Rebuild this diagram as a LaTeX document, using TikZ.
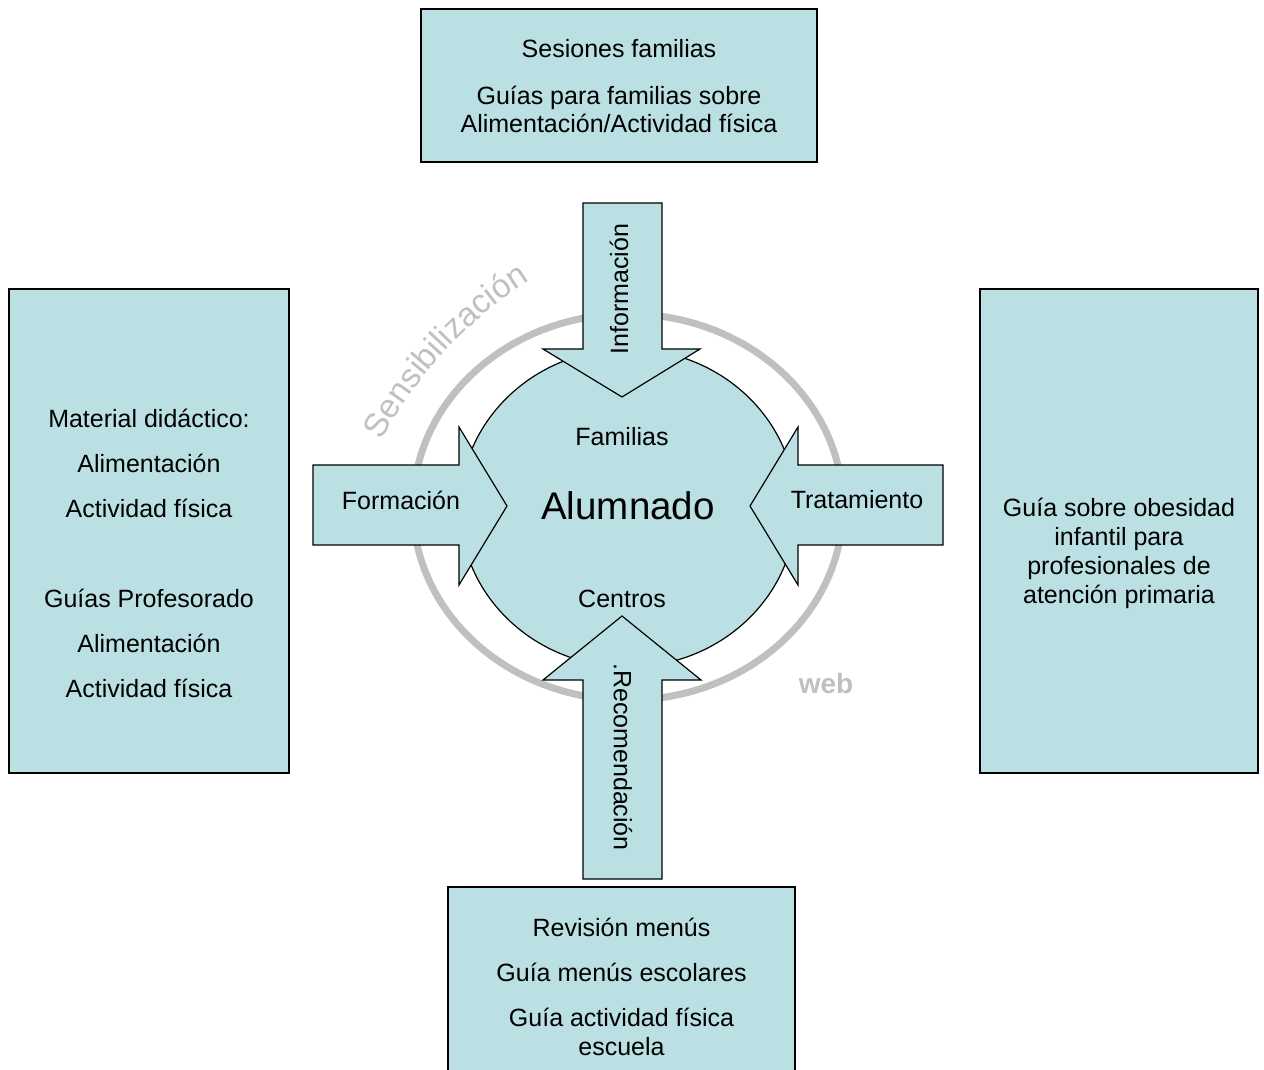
\documentclass[tikz,border=0pt]{standalone}
\usepackage{fontspec}
\setmainfont{Liberation Sans}
\usetikzlibrary{decorations.text}
\definecolor{boxfill}{RGB}{187,224,227}
\definecolor{ringgray}{RGB}{192,192,192}
\begin{document}
\begin{tikzpicture}[x=0.75pt,y=-0.75pt,
  box/.style={draw=black, fill=boxfill, line width=0.9pt, rectangle, inner sep=0pt},
  blockarrow/.style={draw=black, fill=boxfill, line width=0.9pt, line join=miter},
  txt/.style={inner sep=0pt, align=center, font=\fontsize{18.75}{21.75}\selectfont},
  bigtxt/.style={inner sep=0pt, font=\fontsize{28.9}{30}\selectfont},
  webtxt/.style={inner sep=0pt, text=ringgray, font=\fontsize{21}{22}\bfseries\selectfont}]
\useasboundingbox (0,0) rectangle (1264,1070);

% boxes
\node[box, minimum width=297pt, minimum height=114.75pt] (topbox) at (619,85.5) {};
\node[box, minimum width=210pt, minimum height=363pt] (leftbox) at (149,531) {};
\node[box, minimum width=208.5pt, minimum height=363pt] (rightbox) at (1119,531) {};
\node[box, minimum width=260.25pt, minimum height=141pt] (bottombox) at (621.5,981) {};

% box texts
\node[txt, font=\fontsize{18.75}{21}\selectfont] (toptxt) at (619,86)
  {Sesiones familias\\[14.25pt]Guías para familias sobre\\Alimentación/Actividad física};
\node[txt, font=\fontsize{18.75}{33.75}\selectfont] (lefttxt) at (149,553)
  {Material didáctico:\\Alimentación\\Actividad física\\[33.75pt]Guías Profesorado\\Alimentación\\Actividad física};
\node[txt] (righttxt) at (1119,553.5)
  {Guía sobre obesidad\\infantil para\\profesionales de\\atención primaria};
\node[txt] (bottomtxt) at (621.5,986.5)
  {Revisión menús\\[12pt]Guía menús escolares\\[12pt]Guía actividad física\\escuela};

% ring and centre
\draw[ringgray, line width=5.25pt] (628,507) ellipse [x radius=215, y radius=193];
\path[decorate, decoration={text along path,
   text={|\fontsize{25}{25}\selectfont\color{ringgray}|Sensibilización}}]
   (757,640) ++(208:425) arc[start angle=208, end angle=245, radius=425];
\draw[blockarrow] (628,508) ellipse [x radius=168, y radius=159];

% block arrows
\draw[blockarrow] (583,203) -- (662,203) -- (662,349) -- (700,349) -- (622,397) -- (543,349) -- (583,349) -- cycle;
\draw[blockarrow] (583,879) -- (662,879) -- (662,680) -- (701,680) -- (622,616) -- (543,680) -- (583,680) -- cycle;
\draw[blockarrow] (313,465) -- (459,465) -- (459,427) -- (507,506) -- (459,585) -- (459,545) -- (313,545) -- cycle;
\draw[blockarrow] (943,465) -- (798,465) -- (798,427) -- (750,506) -- (798,585) -- (798,545) -- (943,545) -- cycle;

% arrow labels
\node[txt, rotate=90] (info) at (619,289) {Información};
\node[txt, rotate=-90] (recom) at (623,757) {.Recomendación};
\node[txt] (forma) at (401,500) {Formación};
\node[txt] (trata) at (857,500) {Tratamiento};

% centre texts
\node[txt] (familias) at (622,437) {Familias};
\node[bigtxt] (alumnado) at (628,506) {Alumnado};
\node[txt] (centros) at (622,599) {Centros};
\node[webtxt] (web) at (826,683) {web};
\end{tikzpicture}
\end{document}
